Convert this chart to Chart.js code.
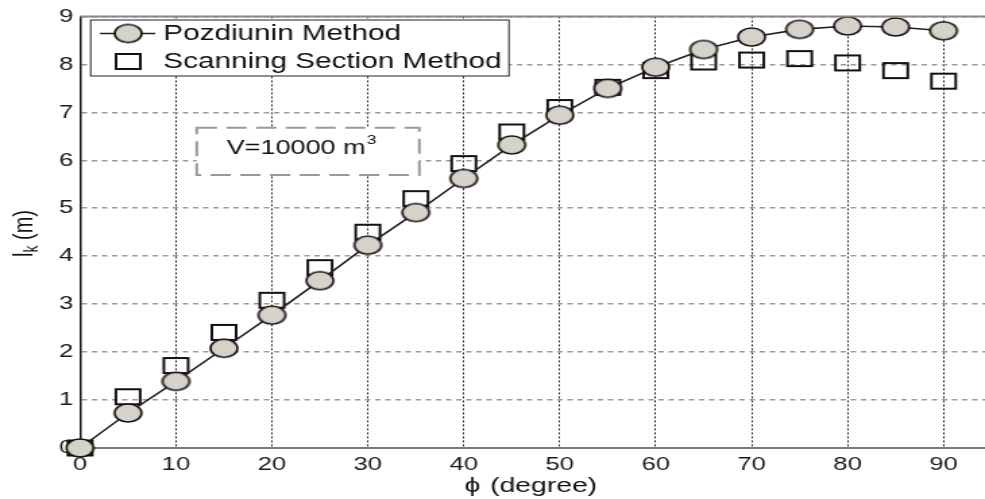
<!DOCTYPE html>
<html>
<head>
<meta charset="utf-8">
<script src="https://cdn.jsdelivr.net/npm/chart.js@4.4.1/dist/chart.umd.min.js"></script>
<style>
  html, body { margin: 0; padding: 0; background: #fff; overflow: hidden; width: 985px; height: 499px; }
  /* the reference is stretched horizontally, so draw narrow and stretch */
  #wrap { width: 745px; height: 499px; transform: scaleX(1.3493); transform-origin: 0 0; }
</style>
</head>
<body>
<div id="wrap"><canvas id="c" width="745" height="499"></canvas></div>
<script>
const phi = [0, 5, 10, 15, 20, 25, 30, 35, 40, 45, 50, 55, 60, 65, 70, 75, 80, 85, 90];
const pozdiunin = [0, 0.73, 1.39, 2.08, 2.77, 3.49, 4.23, 4.91, 5.62, 6.32, 6.94, 7.50, 7.94, 8.31, 8.57, 8.73, 8.80, 8.78, 8.70];
const scanning = [0, 1.07, 1.72, 2.41, 3.08, 3.76, 4.50, 5.20, 5.93, 6.59, 7.10, 7.52, 7.87, 8.05, 8.09, 8.12, 8.03, 7.87, 7.65];
const xTicks = [0, 10, 20, 30, 40, 50, 60, 70, 80, 90];
const yTicks = [0, 1, 2, 3, 4, 5, 6, 7, 8, 9];

const FONT = "'Liberation Sans', Arial, sans-serif";

// marker images
function ellipseMarker() {
  const c = document.createElement('canvas');
  c.width = 24; c.height = 22;
  const g = c.getContext('2d');
  g.beginPath();
  g.ellipse(12, 11, 10, 9, 0, 0, Math.PI * 2);
  g.fillStyle = '#d6d1c9';
  g.fill();
  g.lineWidth = 1.6;
  g.strokeStyle = '#111';
  g.stroke();
  return c;
}
function squareMarker() {
  const c = document.createElement('canvas');
  c.width = 22; c.height = 19;
  const g = c.getContext('2d');
  g.lineWidth = 2;
  g.strokeStyle = '#111';
  g.strokeRect(2, 2, 18, 15);
  return c;
}
const circ = ellipseMarker();
const sq = squareMarker();

const decor = {
  id: 'decor',
  afterDraw(chart) {
    const ctx = chart.ctx;
    const ca = chart.chartArea;
    ctx.save();
    // top frame line
    ctx.strokeStyle = '#888';
    ctx.lineWidth = 2;
    ctx.beginPath();
    ctx.moveTo(ca.left, ca.top);
    ctx.lineTo(ca.right, ca.top);
    ctx.stroke();

    // legend
    ctx.fillStyle = '#fff';
    ctx.fillRect(67.2, 20, 310, 56);
    ctx.strokeStyle = '#222';
    ctx.lineWidth = 1;
    ctx.strokeRect(67.2, 20, 310, 56);
    ctx.strokeStyle = '#222';
    ctx.lineWidth = 1.6;
    ctx.beginPath();
    ctx.moveTo(74, 33.5);
    ctx.lineTo(115, 33.5);
    ctx.stroke();
    ctx.drawImage(circ, 95 - circ.width / 2, 33.5 - circ.height / 2);
    ctx.drawImage(sq, 95 - sq.width / 2, 61.5 - sq.height / 2);
    ctx.fillStyle = '#111';
    ctx.font = '22px ' + FONT;
    ctx.textBaseline = 'middle';
    ctx.textAlign = 'left';
    ctx.fillText('Pozdiunin Method', 121, 34);
    ctx.fillText('Scanning Section Method', 121, 62);

    // volume note
    ctx.fillStyle = '#fff';
    ctx.fillRect(145.8, 127.7, 165, 47.3);
    ctx.strokeStyle = '#999';
    ctx.lineWidth = 2;
    ctx.setLineDash([15, 7]);
    ctx.strokeRect(145.8, 127.7, 165, 47.3);
    ctx.setLineDash([]);
    ctx.fillStyle = '#111';
    ctx.font = '20px ' + FONT;
    ctx.fillText('V=10000 m', 168, 148);
    const w = ctx.measureText('V=10000 m').width;
    ctx.font = '13px ' + FONT;
    ctx.fillText('3', 168 + w + 1, 140);

    // x title
    ctx.font = '21px ' + FONT;
    ctx.textAlign = 'center';
    ctx.fillText('\u03d5', 350.2, 486);
    ctx.textAlign = 'left';
    ctx.fillText('(degree)', 363.2, 486);

    // y title
    ctx.translate(18, 257);
    ctx.rotate(-Math.PI / 2);
    ctx.textAlign = 'left';
    ctx.font = '20px ' + FONT;
    ctx.fillText('l', 0, 0);
    let x = ctx.measureText('l').width;
    ctx.font = '14px ' + FONT;
    ctx.fillText('k', x, 6);
    x += ctx.measureText('k').width;
    ctx.font = '20px ' + FONT;
    ctx.fillText(' (m)', x, 0);
    ctx.restore();
  }
};

new Chart(document.getElementById('c'), {
  type: 'scatter',
  data: {
    datasets: [
      {
        label: 'Pozdiunin Method',
        data: phi.map((p, i) => ({ x: p, y: pozdiunin[i] })),
        showLine: true,
        borderColor: '#222',
        borderWidth: 1.6,
        tension: 0,
        pointStyle: circ,
        pointRadius: 10,
        clip: false
      },
      {
        label: 'Scanning Section Method',
        data: phi.map((p, i) => ({ x: p, y: scanning[i] })),
        showLine: false,
        pointStyle: sq,
        pointRadius: 10,
        clip: false
      }
    ]
  },
  options: {
    responsive: false,
    animation: false,
    devicePixelRatio: 1,
    layout: { padding: { top: 14, right: 0, left: 0, bottom: 0 } },
    plugins: { legend: { display: false }, tooltip: { enabled: false } },
    scales: {
      x: {
        type: 'linear',
        min: 0,
        max: 94.8,
        afterBuildTicks: s => { s.ticks = xTicks.map(v => ({ value: v })); },
        afterFit: s => { s.height = 51; },
        ticks: { font: { size: 19, family: FONT }, color: '#1a1a1a', padding: 5 },
        grid: { color: '#222', lineWidth: 1, drawTicks: false },
        border: { display: true, color: '#777', width: 2, dash: [2, 2] }
      },
      y: {
        min: 0,
        max: 9,
        afterBuildTicks: s => { s.ticks = yTicks.map(v => ({ value: v })); },
        afterFit: s => { s.width = 59.3; },
        ticks: { font: { size: 19, family: FONT }, color: '#1a1a1a', padding: 5 },
        grid: { color: '#999', lineWidth: 1.5, drawTicks: false },
        border: { display: true, color: '#111', width: 1.5, dash: [4, 3.5] }
      }
    }
  },
  plugins: [decor]
});
</script>
</body>
</html>
